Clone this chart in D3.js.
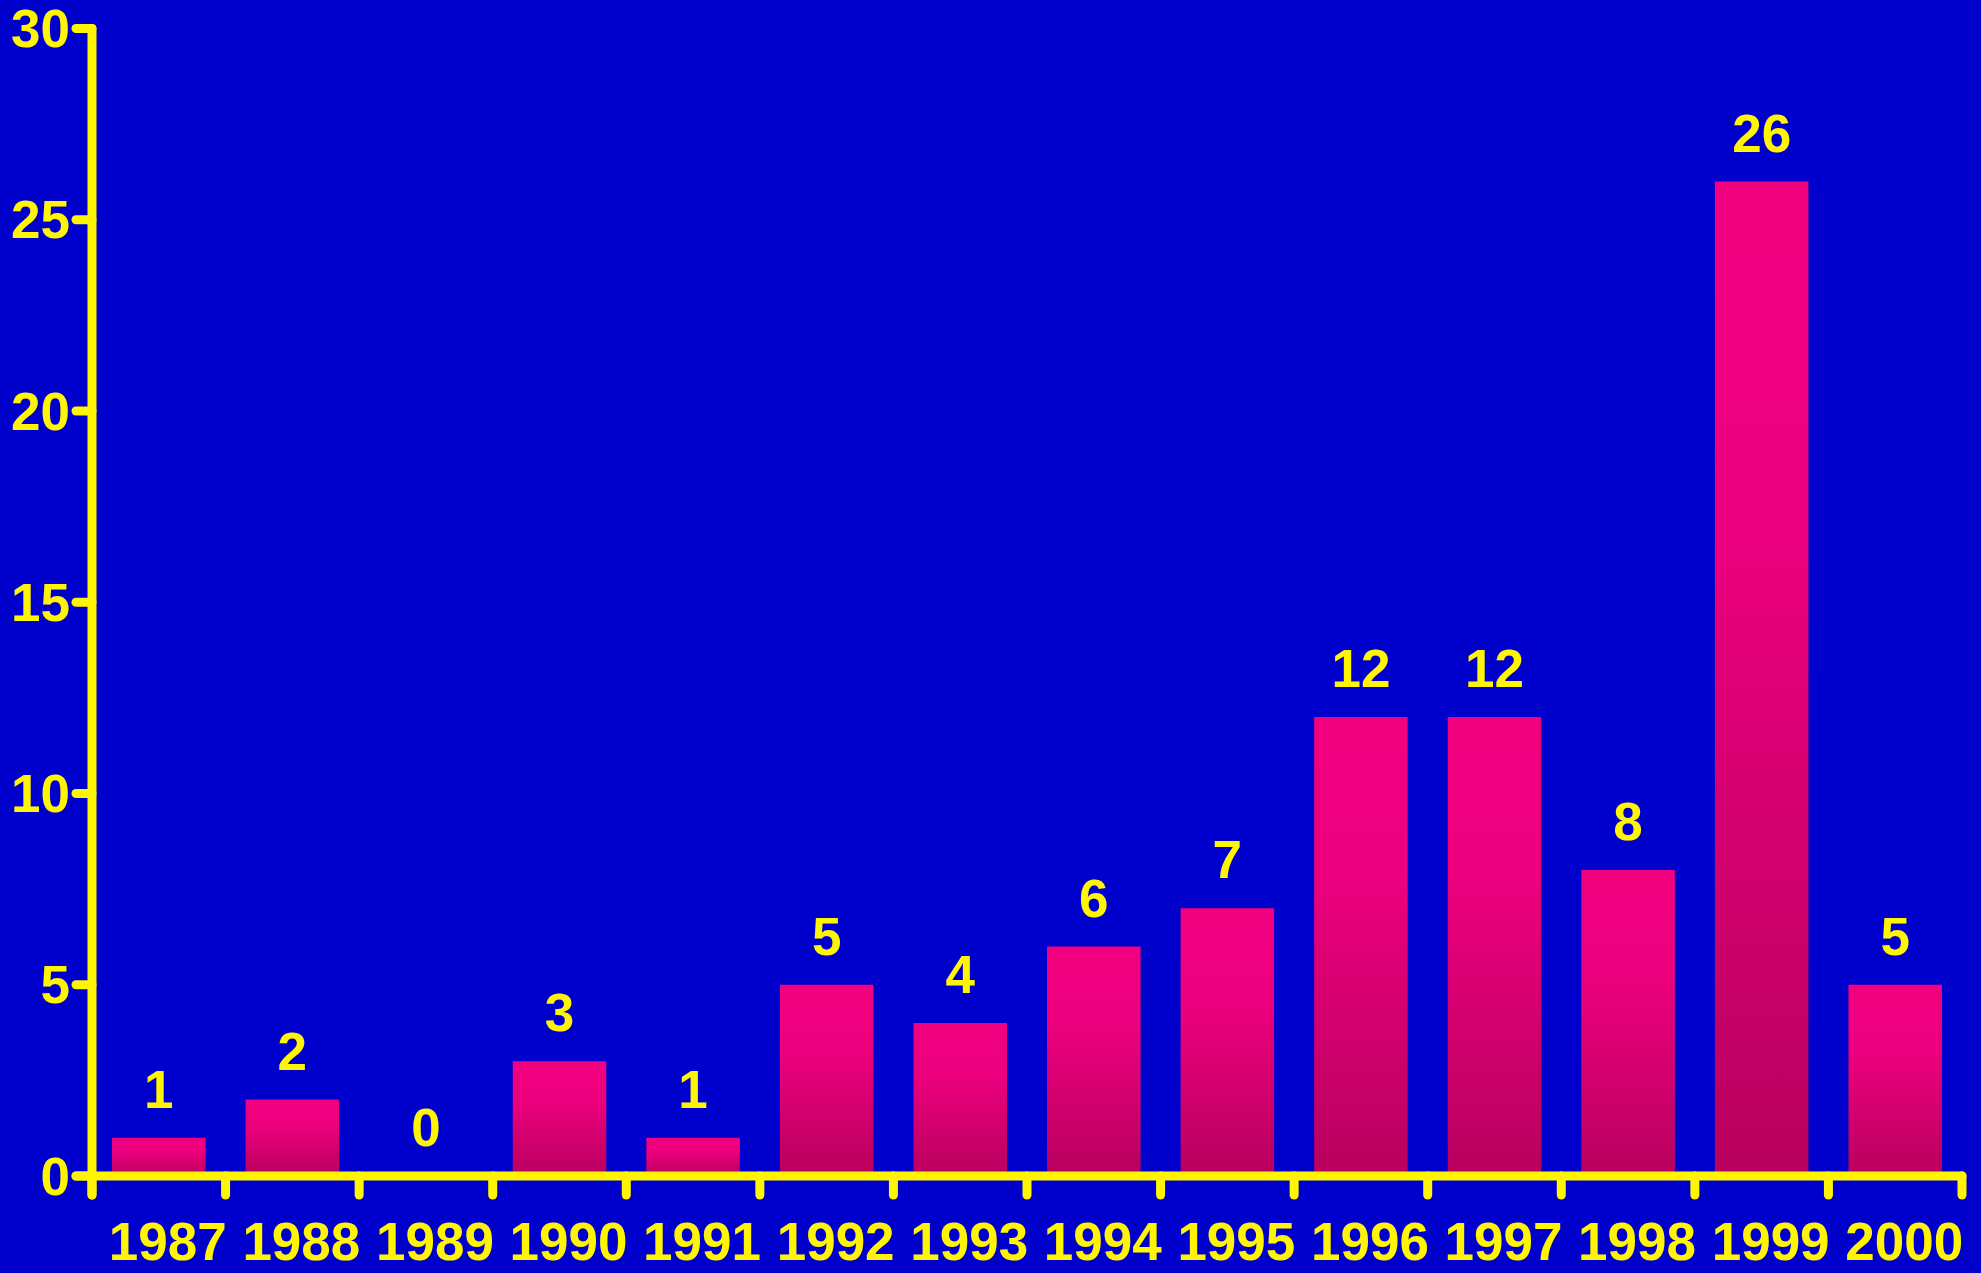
<!DOCTYPE html>
<html>
<head>
<meta charset="utf-8">
<script src="https://cdn.jsdelivr.net/npm/d3@7"></script>
<style>
  html, body { margin: 0; padding: 0; background: #0000CC; overflow: hidden; }
  svg { display: block; }
  text { font-family: "Liberation Sans", Arial, sans-serif; font-weight: bold; }
</style>
</head>
<body>
<svg id="chart" width="1981" height="1273"></svg>
<script>
// Yearly counts
const years = ["1987", "1988", "1989", "1990", "1991", "1992", "1993",
               "1994", "1995", "1996", "1997", "1998", "1999", "2000"];
const counts = [1, 2, 0, 3, 1, 5, 4, 6, 7, 12, 12, 8, 26, 5];
const yTicks = [0, 5, 10, 15, 20, 25, 30];

(function draw() {
  const W = 1981, H = 1273;
  const plotLeft = 92, plotRight = 1962, plotTop = 28.5, plotBottom = 1176;
  const yellow = "#FFF500";

  const svg = d3.select("#chart");
  svg.append("rect").attr("width", W).attr("height", H).attr("fill", "#0000CC");

  const x = d3.scaleBand().domain(years).range([plotLeft, plotRight])
    .paddingInner(0.3).paddingOuter(0.15);
  const y = d3.scaleLinear().domain([0, 30]).range([plotBottom, plotTop]);

  // Bar fill: bright pink on top fading to a deeper magenta at the base
  const grad = svg.append("defs").append("linearGradient")
    .attr("id", "barFill").attr("x1", 0).attr("y1", 0).attr("x2", 0).attr("y2", 1);
  grad.append("stop").attr("offset", "0%").attr("stop-color", "#F2007F");
  grad.append("stop").attr("offset", "35%").attr("stop-color", "#EC007E");
  grad.append("stop").attr("offset", "100%").attr("stop-color", "#B8005E");

  const data = years.map((yr, i) => ({ year: yr, value: counts[i] }));

  svg.append("g").selectAll("rect").data(data.filter(d => d.value > 0)).join("rect")
    .attr("x", d => x(d.year))
    .attr("y", d => y(d.value))
    .attr("width", x.bandwidth())
    .attr("height", d => y(0) - y(d.value))
    .attr("fill", "url(#barFill)");

  // Value labels above bars
  svg.append("g").selectAll("text").data(data).join("text")
    .attr("x", d => x(d.year) + x.bandwidth() / 2)
    .attr("y", d => y(d.value) - 30)
    .attr("text-anchor", "middle")
    .attr("font-size", 53)
    .attr("fill", yellow)
    .text(d => d.value);

  // Axes
  const axisG = svg.append("g")
    .attr("stroke", yellow).attr("stroke-width", 9).attr("stroke-linecap", "round");

  axisG.append("line").attr("x1", plotLeft).attr("x2", plotLeft)
    .attr("y1", plotTop).attr("y2", plotBottom + 19);
  axisG.append("line").attr("x1", plotLeft - 16).attr("x2", plotRight)
    .attr("y1", plotBottom).attr("y2", plotBottom);

  axisG.selectAll("line.ytick").data(yTicks).join("line").attr("class", "ytick")
    .attr("x1", plotLeft - 16).attr("x2", plotLeft)
    .attr("y1", d => y(d)).attr("y2", d => y(d));

  const step = x.step();
  const boundaries = years.map(yr => x(yr) - step * x.paddingInner() / 2).concat([plotRight]);
  axisG.selectAll("line.xtick").data(boundaries).join("line").attr("class", "xtick")
    .attr("x1", d => d).attr("x2", d => d)
    .attr("y1", plotBottom).attr("y2", plotBottom + 19);

  // Y tick labels
  svg.append("g").selectAll("text").data(yTicks).join("text")
    .attr("x", 70)
    .attr("y", d => y(d))
    .attr("dy", "0.35em")
    .attr("text-anchor", "end")
    .attr("font-size", 53)
    .attr("fill", yellow)
    .text(d => d);

  // X tick labels
  svg.append("g").selectAll("text").data(years).join("text")
    .attr("x", d => x(d) + x.bandwidth() / 2 + 9)
    .attr("y", 1260)
    .attr("text-anchor", "middle")
    .attr("font-size", 53)
    .attr("fill", yellow)
    .text(d => d);
})();
</script>
</body>
</html>
